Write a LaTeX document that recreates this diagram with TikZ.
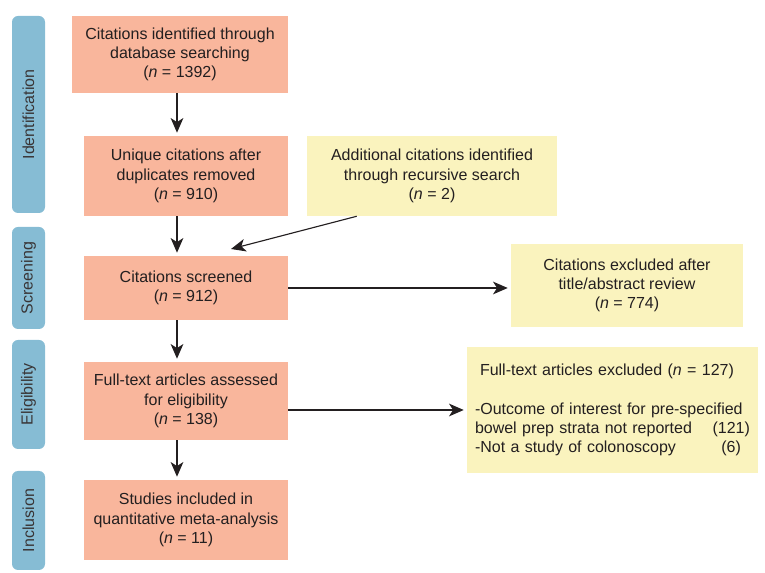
\documentclass[tikz,border=0pt]{standalone}
\usepackage{fontspec}
\setmainfont{Liberation Sans}
\usetikzlibrary{arrows.meta}
\definecolor{boxorange}{RGB}{249,182,156}
\definecolor{boxyellow}{RGB}{250,243,190}
\definecolor{barblue}{RGB}{134,188,212}
\definecolor{inkgray}{RGB}{35,31,32}
\tikzset{
	stage/.style={fill=barblue, rounded corners=4.5pt, rotate=90, minimum height=24.75pt, inner sep=0pt, text=inkgray!90},
	flowbox/.style={fill=boxorange, align=center, inner sep=0pt, minimum width=153pt, text=inkgray},
	sidebox/.style={fill=boxyellow, align=center, inner sep=0pt, text=inkgray},
	arr/.style={draw=inkgray, line width=0.85pt, -{Stealth[length=11pt, width=9.5pt, inset=3pt]}, shorten >=2.25pt},
}
\begin{document}
\begin{tikzpicture}[x=0.75pt, y=-0.75pt, font=\fontsize{12}{14.5}\selectfont]
	\useasboundingbox (0,0) rectangle (765,573);
	\node (ident) [stage, minimum width=147.75pt] at (28.5,114.5) {Identification};
	\node (screen) [stage, minimum width=76.5pt] at (28.5,278) {Screening};
	\node (elig) [stage, minimum width=81.75pt] at (28.5,394.5) {Eligibility};
	\node (incl) [stage, minimum width=74.25pt] at (28.5,520.5) {Inclusion};
	\node (found) [flowbox, minimum width=162pt, minimum height=57.75pt] at (180,54.5) {Citations identified through\\database searching\\(\textit{n} = 1392)};
	\node (unique) [flowbox, minimum height=60pt] at (186,176) {Unique citations after\\duplicates removed\\(\textit{n} = 910)};
	\node (screened) [flowbox, minimum height=48pt] at (186,288) {Citations screened\\(\textit{n} = 912)};
	\node (fulltext) [flowbox, minimum height=58.5pt] at (186,401) {Full-text articles assessed\\for eligibility\\(\textit{n} = 138)};
	\node (included) [flowbox, minimum height=60pt] at (186,520) {Studies included in\\quantitative meta-analysis\\(\textit{n} = 11)};
	\node (extra) [sidebox, minimum width=187.5pt, minimum height=60pt] at (432,176) {Additional citations identified\\through recursive search\\(\textit{n} = 2)};
	\node (dropped) [sidebox, minimum width=174pt, minimum height=62.25pt] at (627,285.5) {Citations excluded after\\title/abstract review\\(\textit{n} = 774)};
	\node (excluded) [sidebox, minimum width=218.25pt, minimum height=94.5pt, inner xsep=6pt, align=left, text width=206.25pt] at (612.5,410) {%
		\hspace*{3.75pt}Full-text articles excluded (\textit{n} = 127)\\[14.5pt]
		-Outcome of interest for pre-specified\\
		\makebox[\linewidth][l]{bowel prep strata not reported\hfill(121)}\\
		\makebox[\linewidth][l]{-Not a study of colonoscopy\hfill(6)\hspace*{6.75pt}}};
	\coordinate (spine) at (177,0);
	\coordinate (merge) at (231,249);
	\draw [arr] (found.south -| spine) -- (unique.north -| spine);
	\draw [arr] (unique.south -| spine) -- (screened.north -| spine);
	\draw [arr, shorten >=0pt] ([xshift=37.5pt]extra.south west) -- (merge);
	\draw [arr] (screened.east) -- (dropped.west |- screened.east);
	\draw [arr] (screened.south -| spine) -- (fulltext.north -| spine);
	\draw [arr] (fulltext.east |- excluded.west) -- (excluded.west);
	\draw [arr] (fulltext.south -| spine) -- (included.north -| spine);
\end{tikzpicture}
\end{document}
